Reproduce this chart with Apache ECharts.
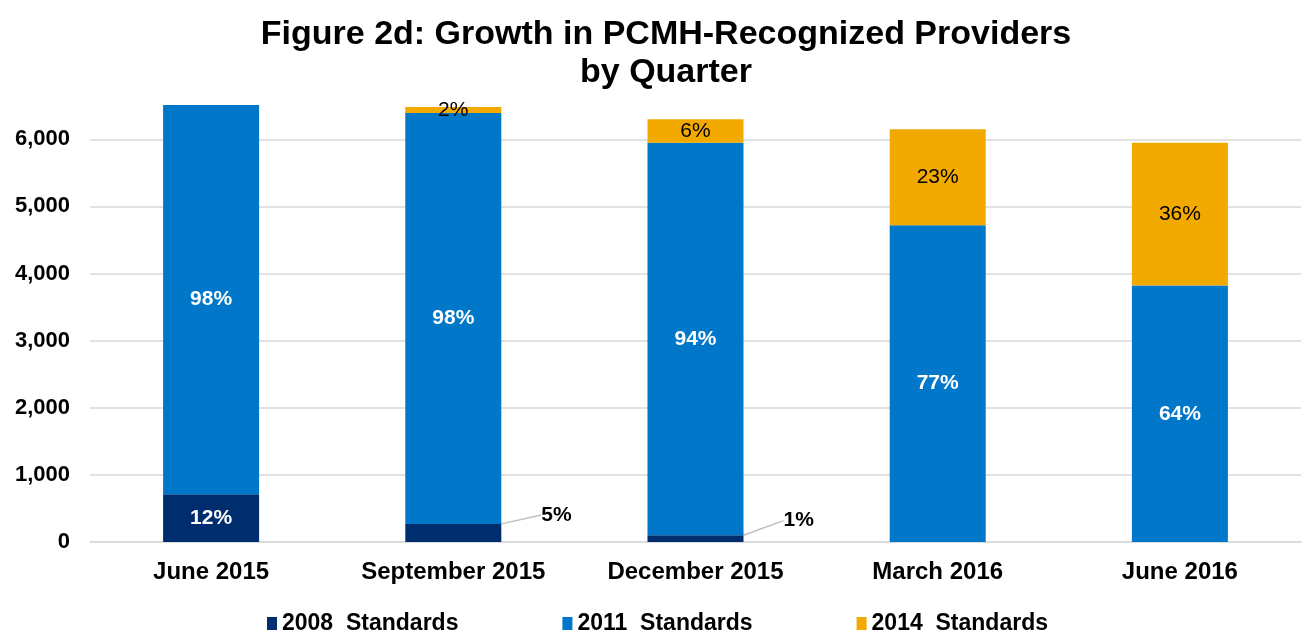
<!DOCTYPE html>
<html lang="en">

<head>
  <meta charset="UTF-8">
  <title>Figure 2d</title>
  <script src="https://cdn.jsdelivr.net/npm/echarts@6/dist/echarts.min.js"></script>
  <style>
    * {
      padding: 0;
      margin: 0;
    }

    #box {
      width: 1302px;
      height: 632px;
    }
  </style>
</head>

<body>
  <div id="box"></div>
  <script>
    // values
    var quarters = ['June 2015', 'September 2015', 'December 2015', 'March 2016', 'June 2016']
    var std2008 = [710, 270, 100, 0, 0]
    var std2011 = [5800, 6120, 5850, 4720, 3820]
    var std2014 = [0, 90, 350, 1430, 2130]
    // percent labels as printed on the bars
    var pct2008 = ['12%', '5%', '1%', '', '']
    var pct2011 = ['98%', '98%', '94%', '77%', '64%']
    var pct2014 = ['', '2%', '6%', '23%', '36%']
    var yTicks = [0, 1000, 2000, 3000, 4000, 5000, 6000]

    var font = '"Liberation Sans", Arial, sans-serif'
    var mCharts = echarts.init(document.getElementById('box'))

    function makeData(vals, outside) {
      var arr = []
      for (let i = 0; i < vals.length; i++) {
        let item = { value: vals[i] }
        if (outside && outside.indexOf(i) >= 0) {
          item.label = { position: 'right', color: '#000' }
          item.labelLine = { show: true }
        }
        arr.push(item)
      }
      return arr
    }

    var option = {
      backgroundColor: '#fff',
      title: {
        text: 'Figure 2d: Growth in PCMH-Recognized Providers\nby Quarter',
        left: 661,
        top: 11,
        textAlign: 'center',
        textStyle: {
          fontFamily: font,
          fontSize: 34,
          fontWeight: 'bold',
          color: '#000',
          lineHeight: 38
        }
      },
      legend: {
        left: 262,
        top: 607,
        itemWidth: 10,
        itemHeight: 13,
        itemGap: 104,
        icon: 'rect',
        textStyle: {
          fontFamily: font,
          fontSize: 23,
          fontWeight: 'bold',
          color: '#000'
        },
        formatter: function (n) { return n.replace(' ', '  ') },
        data: ['2008 Standards', '2011 Standards', '2014 Standards']
      },
      grid: {
        left: 90,
        right: 1,
        top: 99,
        bottom: 90
      },
      xAxis: {
        type: 'category',
        data: quarters,
        axisTick: { show: false },
        axisLine: { lineStyle: { color: '#d9d9d9', width: 1.5 } },
        axisLabel: {
          margin: 18,
          fontFamily: font,
          fontSize: 24,
          fontWeight: 'bold',
          color: '#000'
        }
      },
      yAxis: {
        type: 'value',
        min: yTicks[0],
        max: 6600,
        interval: 1000,
        axisLine: { show: false },
        axisTick: { show: false },
        splitLine: { showMaxLine: false, lineStyle: { color: '#d9d9d9', width: 1.5 } },
        axisLabel: {
          margin: 20,
          showMaxLabel: false,
          fontFamily: font,
          fontSize: 22,
          fontWeight: 'bold',
          color: '#000',
          formatter: function (v) {
            return yTicks.indexOf(v) >= 0 ? v.toLocaleString('en-US') : ''
          }
        }
      },
      series: [{
        name: '2008 Standards',
        type: 'bar',
        stack: 'all',
        barWidth: 96,
        itemStyle: { color: '#002d6e' },
        label: {
          show: true,
          position: 'inside',
          fontFamily: font,
          fontSize: 21,
          fontWeight: 'bold',
          color: '#fff',
          formatter: function (p) { return pct2008[p.dataIndex] }
        },
        labelLine: { show: false, lineStyle: { color: '#bfbfbf', width: 1.5 } },
        labelLayout: function (p) {
          if (p.dataIndex === 1 || p.dataIndex === 2) {
            return { dx: 35, dy: -18 }
          }
          return {}
        },
        data: makeData(std2008, [1, 2])
      }, {
        name: '2011 Standards',
        type: 'bar',
        stack: 'all',
        itemStyle: { color: '#0077c8' },
        label: {
          show: true,
          position: 'inside',
          fontFamily: font,
          fontSize: 21,
          fontWeight: 'bold',
          color: '#fff',
          formatter: function (p) { return pct2011[p.dataIndex] }
        },
        data: std2011
      }, {
        name: '2014 Standards',
        type: 'bar',
        stack: 'all',
        itemStyle: { color: '#f2a900' },
        label: {
          show: true,
          position: 'inside',
          fontFamily: font,
          fontSize: 21,
          color: '#000',
          formatter: function (p) { return pct2014[p.dataIndex] }
        },
        data: std2014
      }]
    }
    mCharts.setOption(option)
  </script>
</body>

</html>
